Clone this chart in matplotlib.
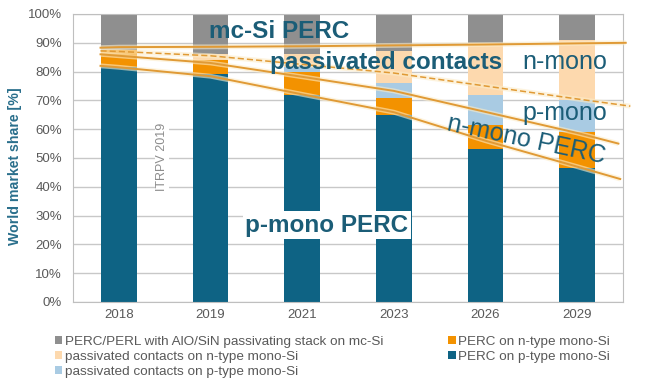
import numpy as np
import matplotlib.pyplot as plt

plt.rcParams['font.family'] = ['Liberation Sans', 'DejaVu Sans']

# data
years = ['2018', '2019', '2021', '2023', '2026', '2029']
perc_p_mono = [81.5, 79, 72, 65, 53, 46.5]
perc_n_mono = [6, 5, 8, 6, 8.5, 12.5]
pc_p_mono = [0, 0, 1.5, 5, 10.5, 11]
pc_n_mono = [0, 2, 4.5, 11, 18, 21]
perc_mc_si = [12.5, 14, 14, 13, 10, 9]

# trend lines: value at left start, at each year, at right end
trend_mc = [88.3, 88.5, 88.6, 88.8, 89.1, 89.4, 89.8, 90.0]
trend_pc = [87.2, 87, 85.5, 82.5, 79.5, 75, 70.5, 68]
trend_p = [86, 85.5, 83, 78.2, 73.3, 66, 58.7, 55]
trend_nperc = [82, 81.5, 78.4, 72.1, 65.9, 56, 47, 42.7]

c_blue = '#0e6384'
c_orange = '#f39200'
c_peach = '#fdd9ae'
c_lblue = '#a9cbe3'
c_gray = '#8f8f8f'
c_text = '#1b5d77'
c_tick = '#595959'
c_line = '#e09a35'
c_halo = '#fcecc8'

fig = plt.figure(figsize=(6.48, 3.82), dpi=100)
ax = fig.add_axes([73/648, 1-302/382, 550/648, 288/382])

x = np.arange(len(years))
w = 0.39
bottom = np.zeros(len(years))
for vals, col, lab in [(perc_p_mono, c_blue, 'PERC on p-type mono-Si'),
                       (perc_n_mono, c_orange, 'PERC on n-type mono-Si'),
                       (pc_p_mono, c_lblue, 'passivated contacts on p-type mono-Si'),
                       (pc_n_mono, c_peach, 'passivated contacts on n-type mono-Si'),
                       (perc_mc_si, c_gray, 'PERC/PERL with AlO/SiN passivating stack on mc-Si')]:
    ax.bar(x, vals, w, bottom=bottom, color=col, label=lab, zorder=2)
    bottom += np.array(vals)

# trend lines
def line_x(end):
    return np.concatenate([[-0.2], x, [end]])

for vals, end, ls in [(trend_mc, 5.53, '-'), (trend_pc, 5.58, '--'),
                      (trend_p, 5.45, '-'), (trend_nperc, 5.47, '-')]:
    xx = line_x(end)
    ax.plot(xx, vals, color=c_halo, lw=3.5, alpha=0.6, zorder=3,
            solid_capstyle='butt', clip_on=False)
    ax.plot(xx, vals, color=c_line, lw=1.4 if ls == '-' else 1.1, ls=ls,
            dashes=(4, 2) if ls == '--' else (None, None), zorder=4, clip_on=False)

ax.set_xlim(-0.5, 5.5)
ax.set_ylim(0, 100)
ax.set_xticks(x)
ax.set_xticklabels(years)
ax.set_yticks(np.arange(0, 101, 10))
ax.set_yticklabels([str(v) + '%' for v in range(0, 101, 10)])
ax.tick_params(length=0, colors=c_tick, labelsize=9.5)
ax.tick_params(axis='y', pad=8)
ax.tick_params(axis='x', pad=5)
ax.grid(axis='y', color='#c8c8c8', lw=1, zorder=0)
for s in ax.spines.values():
    s.set_color('#bfbfbf')
ax.set_ylabel('World market share [%]', color='#2a6f8c', fontweight='bold',
              fontsize=10.2)
ax.yaxis.set_label_coords(-51/550, 0.47)

# annotations
ax.text(0.985, 94, 'mc-Si PERC', color=c_text, fontsize=17.5, fontweight='bold',
        va='center', ha='left', zorder=5)
ax.text(1.65, 83.3, 'passivated contacts', color=c_text, fontsize=17.5,
        fontweight='bold', va='center', ha='left', zorder=5)
ax.text(4.86, 83.5, 'n-mono', color=c_text, fontsize=18, va='center', ha='center', zorder=5)
ax.text(4.86, 65.6, 'p-mono', color=c_text, fontsize=18, va='center', ha='center', zorder=5)
ax.text(4.45, 56.3, 'n-mono PERC', color=c_text, fontsize=18, va='center', ha='center',
        rotation=-12, zorder=5)
ax.text(2.27, 26.7, 'p-mono PERC', color=c_text, fontsize=17.5, fontweight='bold',
        va='center', ha='center', zorder=5,
        bbox=dict(facecolor='white', edgecolor='none', pad=1.5))
ax.text(0.47, 50.5, 'ITRPV 2019', color='#8c8c8c', fontsize=9, rotation=90,
        va='center', ha='center', zorder=5,
        bbox=dict(facecolor='white', edgecolor='none', pad=1))

# legend
h, l = ax.get_legend_handles_labels()
order = [4, 3, 2, 1, 0]
fig.legend([h[i] for i in order], [l[i] for i in order], ncol=2,
           loc='upper left', bbox_to_anchor=(55/648, 1-336/382), frameon=False,
           fontsize=9.7, labelcolor=c_tick, handlelength=0.55, handleheight=0.55,
           handletextpad=0.2, columnspacing=4.8, labelspacing=0.22,
           borderpad=0, borderaxespad=0)

fig.savefig('out.png', dpi=100)
